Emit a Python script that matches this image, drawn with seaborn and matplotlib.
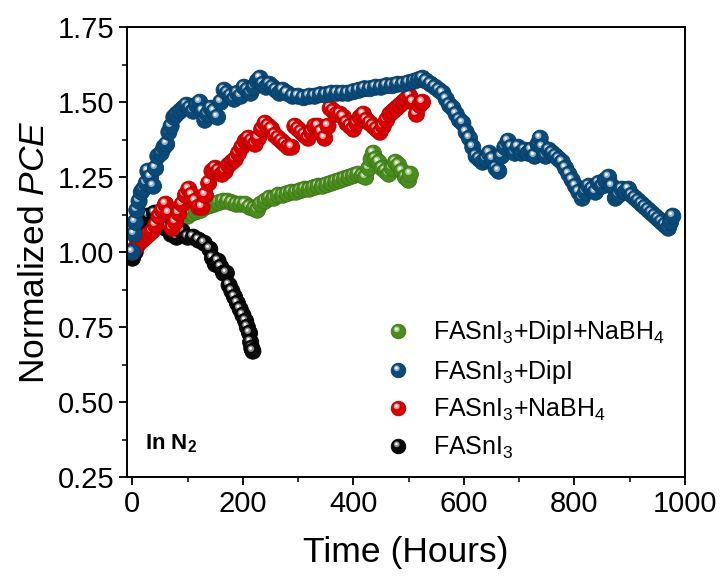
import seaborn as sns
import matplotlib.pyplot as plt
import pandas as pd
from matplotlib.lines import Line2D
from matplotlib.path import Path
from matplotlib.legend_handler import HandlerTuple
from matplotlib.ticker import MultipleLocator, FormatStrFormatter

# data (time in hours, normalized PCE)
t_ctrl = [0, 5, 10, 15, 20, 25, 30, 40, 50, 60, 70, 80, 90, 100, 110, 120, 130, 140,
          145, 150, 155, 160, 165, 170, 175, 180, 185, 190, 195, 200, 205, 208, 212,
          214, 216, 218]
pce_ctrl = [0.98, 1.00, 1.04, 1.07, 1.10, 1.12, 1.12, 1.13, 1.11, 1.08, 1.06, 1.05,
            1.07, 1.05, 1.05, 1.04, 1.03, 1.01, 0.98, 0.96, 0.97, 0.95, 0.93, 0.93,
            0.89, 0.87, 0.85, 0.83, 0.81, 0.79, 0.77, 0.75, 0.73, 0.70, 0.68, 0.67]

t_nabh = [0, 4, 8, 12, 18, 24, 30, 36, 42, 48, 54, 60, 66, 72, 78, 84, 90, 96, 102,
          108, 114, 120, 126, 132, 138, 144, 150, 156, 162, 168, 174, 180, 186, 192,
          198, 204, 210, 216, 222, 228, 234, 240, 246, 252, 258, 264, 270, 276, 282,
          288, 294, 300, 306, 312, 318, 324, 330, 336, 342, 348, 354, 358, 364, 370,
          376, 382, 388, 394, 400, 406, 412, 418, 424, 430, 436, 442, 448, 454, 460,
          466, 472, 478, 484, 490, 496, 502, 508, 514, 520, 525]
pce_nabh = [1.00, 1.01, 1.02, 1.03, 1.04, 1.05, 1.06, 1.07, 1.09, 1.12, 1.14, 1.16,
            1.13, 1.08, 1.10, 1.13, 1.16, 1.19, 1.21, 1.19, 1.17, 1.15, 1.15, 1.19,
            1.23, 1.27, 1.28, 1.27, 1.26, 1.27, 1.29, 1.30, 1.31, 1.33, 1.35, 1.37,
            1.38, 1.37, 1.36, 1.38, 1.41, 1.43, 1.42, 1.41, 1.39, 1.38, 1.37, 1.36,
            1.35, 1.35, 1.42, 1.41, 1.40, 1.39, 1.38, 1.40, 1.42, 1.42, 1.40, 1.38,
            1.42, 1.48, 1.47, 1.46, 1.46, 1.45, 1.43, 1.42, 1.41, 1.43, 1.45, 1.46,
            1.44, 1.43, 1.42, 1.41, 1.40, 1.42, 1.44, 1.46, 1.47, 1.48, 1.49, 1.50,
            1.51, 1.52, 1.50, 1.46, 1.49, 1.50]

t_dipi = [0, 3, 5, 8, 12, 16, 20, 25, 28, 33, 38, 42, 46, 52, 57, 62, 66, 70, 75, 80,
          86, 92, 98, 104, 110, 116, 122, 127, 131, 136, 142, 148, 154, 160, 166, 172,
          178, 184, 190, 196, 202, 208, 214, 220, 226, 231, 236, 242, 248, 254, 260,
          266, 272, 280, 290, 300, 310, 320, 330, 340, 350, 360, 370, 380, 390, 400,
          410, 420, 430, 440, 450, 460, 470, 480, 490, 500, 510, 518, 525, 532, 540,
          548, 555, 562, 568, 574, 580, 586, 592, 598, 604, 610, 616, 622, 628, 634,
          640, 646, 652, 658, 663, 668, 674, 680, 686, 692, 698, 704, 710, 716, 722,
          728, 734, 738, 742, 748, 754, 760, 766, 772, 778, 784, 790, 796, 802, 808,
          814, 820, 826, 832, 838, 844, 850, 856, 862, 868, 874, 880, 886, 892, 898,
          904, 910, 916, 922, 928, 934, 940, 946, 952, 958, 964, 970, 974, 978]
pce_dipi = [1.00, 1.06, 1.10, 1.14, 1.17, 1.20, 1.21, 1.23, 1.27, 1.25, 1.22, 1.28,
            1.32, 1.33, 1.35, 1.36, 1.40, 1.42, 1.45, 1.46, 1.47, 1.48, 1.49, 1.48,
            1.47, 1.49, 1.50, 1.47, 1.44, 1.46, 1.48, 1.47, 1.45, 1.50, 1.54, 1.53,
            1.52, 1.51, 1.53, 1.52, 1.55, 1.54, 1.53, 1.55, 1.57, 1.58, 1.56, 1.55,
            1.56, 1.55, 1.54, 1.53, 1.54, 1.53, 1.52, 1.52, 1.515, 1.52, 1.52, 1.525,
            1.525, 1.53, 1.53, 1.53, 1.53, 1.535, 1.54, 1.545, 1.545, 1.55, 1.55,
            1.555, 1.555, 1.56, 1.56, 1.565, 1.57, 1.575, 1.58, 1.57, 1.56, 1.55,
            1.54, 1.53, 1.51, 1.49, 1.48, 1.46, 1.44, 1.43, 1.40, 1.38, 1.35, 1.32,
            1.31, 1.30, 1.31, 1.33, 1.31, 1.28, 1.27, 1.32, 1.35, 1.37, 1.35, 1.33,
            1.35, 1.33, 1.34, 1.33, 1.34, 1.32, 1.36, 1.38, 1.35, 1.32, 1.34, 1.33,
            1.32, 1.31, 1.30, 1.28, 1.26, 1.24, 1.22, 1.20, 1.18, 1.20, 1.22, 1.21,
            1.20, 1.23, 1.22, 1.24, 1.25, 1.22, 1.18, 1.19, 1.21, 1.20, 1.21, 1.19,
            1.18, 1.17, 1.16, 1.15, 1.14, 1.13, 1.12, 1.11, 1.10, 1.09, 1.08, 1.10,
            1.12]

t_both = [100, 108, 116, 124, 132, 140, 148, 156, 164, 172, 180, 188, 196, 204, 212,
          220, 226, 232, 240, 248, 256, 264, 272, 280, 288, 296, 304, 312, 320, 328,
          336, 344, 352, 360, 368, 376, 384, 392, 400, 408, 416, 422, 428, 432, 436,
          440, 446, 452, 458, 464, 470, 476, 482, 488, 494, 500, 503]
pce_both = [1.12, 1.13, 1.135, 1.14, 1.15, 1.155, 1.16, 1.165, 1.17, 1.17, 1.165,
            1.16, 1.16, 1.16, 1.15, 1.145, 1.14, 1.16, 1.17, 1.18, 1.18, 1.19, 1.19,
            1.195, 1.20, 1.20, 1.205, 1.21, 1.21, 1.215, 1.22, 1.22, 1.225, 1.23,
            1.235, 1.24, 1.245, 1.25, 1.255, 1.26, 1.255, 1.25, 1.28, 1.31, 1.33,
            1.31, 1.30, 1.28, 1.27, 1.26, 1.28, 1.30, 1.29, 1.27, 1.25, 1.24, 1.26]

labels = ['FASnI$_3$+DipI+NaBH$_4$', 'FASnI$_3$+DipI', 'FASnI$_3$+NaBH$_4$', 'FASnI$_3$']
# face, edge, glow
cols = {
    'both': ('#4a8c1e', '#3c7516', '#a9cf8c'),
    'dipi': ('#0b4a78', '#073c63', '#8fb2cf'),
    'nabh': ('#d80000', '#b00000', '#f29a9a'),
    'ctrl': ('#0a0a0a', '#000000', '#8a8a8a'),
}

sns.set_style('ticks')
plt.rcParams['font.family'] = ['Liberation Sans', 'DejaVu Sans']
plt.rcParams['mathtext.fontset'] = 'custom'
plt.rcParams['mathtext.rm'] = 'Liberation Sans'
plt.rcParams['mathtext.it'] = 'Liberation Sans:italic'
plt.rcParams['mathtext.bf'] = 'Liberation Sans:bold'
plt.rcParams['text.color'] = 'black'
plt.rcParams['axes.labelcolor'] = 'black'

fig = plt.figure(figsize=(7.21, 5.79), dpi=100)
ax = fig.add_axes([0.176, 0.176, 0.774, 0.777])

BALL = 135


# highlight marker: circle placed off-centre inside the unit ball
def spot(cx, cy, r):
    p = Path.circle(center=(cx, cy), radius=r)
    m = max(abs(cx), abs(cy)) + r
    return p, m / 0.5


glow_path, glow_k = spot(-0.12, 0.15, 0.2)
dot_path, dot_k = spot(-0.14, 0.17, 0.09)


def balls(t, v, key):
    face, edge, glow = cols[key]
    rows = []
    for a, b in zip(t, v):
        rows += [(a, b, 'ball'), (a, b, 'glow'), (a, b, 'dot')]
    df = pd.DataFrame(rows, columns=['t', 'v', 'layer'])
    sns.scatterplot(data=df, x='t', y='v', ax=ax, hue='layer', size='layer',
                    style='layer',
                    palette={'ball': face, 'glow': glow, 'dot': 'white'},
                    sizes={'ball': BALL, 'glow': BALL * glow_k ** 2,
                           'dot': BALL * dot_k ** 2},
                    markers={'ball': 'o', 'glow': glow_path, 'dot': dot_path},
                    linewidth=0.6, legend=False)
    coll = ax.collections[-1]
    n = len(t)
    coll.set_edgecolors([edge, 'none', 'none'] * n)
    coll.set_linewidths([0.6, 0, 0] * n)


# drawing order: green under everything, blue on top
balls(t_both, pce_both, 'both')
balls(t_ctrl, pce_ctrl, 'ctrl')
balls(t_nabh, pce_nabh, 'nabh')
balls(t_dipi, pce_dipi, 'dipi')

ax.set_xlim(-10, 1000)
ax.set_ylim(0.25, 1.75)
ax.xaxis.set_major_locator(MultipleLocator(200))
ax.xaxis.set_minor_locator(MultipleLocator(100))
ax.yaxis.set_major_locator(MultipleLocator(0.25))
ax.yaxis.set_minor_locator(MultipleLocator(0.125))
ax.yaxis.set_major_formatter(FormatStrFormatter('%.2f'))
ax.tick_params(which='major', direction='out', length=6, width=1.3, labelsize=21,
               colors='black', pad=3)
ax.tick_params(which='minor', direction='out', length=3.5, width=1.1, colors='black')
for sp in ax.spines.values():
    sp.set_linewidth(1.4)
    sp.set_color('black')

ax.set_xlabel('Time (Hours)', fontsize=25.5, labelpad=13)
ax.set_ylabel('Normalized $\\mathit{PCE}$', fontsize=25.5, labelpad=5)

ax.text(0.032, 0.074, 'In N$_\\mathbf{2}$', transform=ax.transAxes, fontsize=16,
        fontweight='bold', va='center', ha='left')

MS = 10.5
handles = []
for key in ['both', 'dipi', 'nabh', 'ctrl']:
    face, edge, glow = cols[key]
    h1 = Line2D([], [], ls='none', marker='o', ms=MS, mfc=face, mec=edge, mew=0.6)
    h2 = Line2D([], [], ls='none', marker=glow_path, ms=MS * glow_k, mfc=glow,
                mec='none', mew=0)
    h3 = Line2D([], [], ls='none', marker=dot_path, ms=MS * dot_k, mfc='white',
                mec='none', mew=0)
    handles.append((h1, h2, h3))
ax.legend(handles, labels, handler_map={tuple: HandlerTuple(ndivide=1, pad=0)},
          loc='upper left', bbox_to_anchor=(0.445, 0.375), frameon=False,
          fontsize=18, handlelength=1.0, handletextpad=0.9, labelspacing=0.45,
          borderaxespad=0)

fig.savefig('out.png', dpi=100)
